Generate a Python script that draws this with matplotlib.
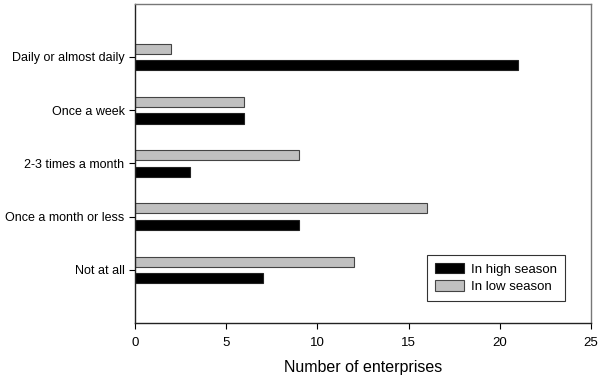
import numpy as np
import matplotlib
matplotlib.use("Agg")
import matplotlib.pyplot as plt

plt.rcParams['font.family'] = ['Liberation Sans', 'DejaVu Sans']

# Data
categories = ["Daily or almost daily", "Once a week", "2-3 times a month",
              "Once a month or less", "Not at all"]
high_season = [21, 6, 3, 9, 7]
low_season = [2, 6, 9, 16, 12]

fig = plt.figure(figsize=(6, 3.8), dpi=100)
ax = fig.add_axes([0.225, 0.15, 0.76, 0.84])

y = np.arange(len(categories), 0, -1)
bar_h = 0.19
off = 0.155

ax.barh(y - off, high_season, height=bar_h, color='black', edgecolor='#222222',
        linewidth=0.8, label='In high season')
ax.barh(y + off, low_season, height=bar_h, color='#c0c0c0', edgecolor='#444444',
        linewidth=0.8, label='In low season')

ax.set_xlim(0, 25)
ax.set_ylim(0, 6)
ax.set_xticks([0, 5, 10, 15, 20, 25])
ax.set_yticks(y)
ax.set_yticklabels(categories)
ax.tick_params(axis='both', labelsize=9, length=4, width=0.8, direction='out')
ax.tick_params(axis='x', labelsize=9.5, pad=6)
ax.set_xlabel("Number of enterprises", fontsize=11.5, labelpad=8)

for side in ['top', 'right']:
    ax.spines[side].set_color('#777777')
for side in ['left', 'bottom']:
    ax.spines[side].set_color('#222222')
for sp in ax.spines.values():
    sp.set_linewidth(1.0)

leg = ax.legend(loc='lower right', bbox_to_anchor=(0.943, 0.069), borderaxespad=0,
                fontsize=9.5, frameon=True, fancybox=False, edgecolor='black',
                handlelength=2.2, handleheight=0.8, handletextpad=0.55,
                borderpad=0.6, labelspacing=0.35)
leg.get_frame().set_linewidth(0.8)

fig.savefig("out.png", dpi=100)
